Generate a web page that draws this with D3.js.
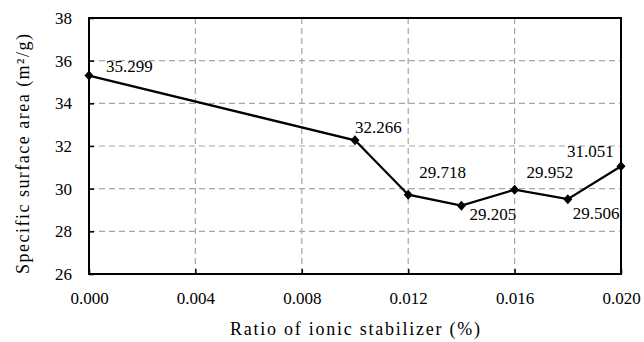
<!DOCTYPE html>
<html><head><meta charset="utf-8">
<script src="https://cdn.jsdelivr.net/npm/d3@7"></script>
<style>body{margin:0;background:#fff}svg{display:block}svg text{font-family:"Liberation Serif","Times New Roman",Times,"DejaVu Serif",serif !important;fill:#000}</style>
</head><body><svg id="c" width="644" height="342"></svg>
<script>
const xValues=[0,0.010,0.012,0.014,0.016,0.018,0.020];
const yValues=[35.299,32.266,29.718,29.205,29.952,29.506,31.051];
const xTicks=[0,0.004,0.008,0.012,0.016,0.020];
const yTicks=[26,28,30,32,34,36,38];
const labelDx=[17,0,11,8,12,5,-54];
const labelDy=[-8,-11,-21,10,-16,16,-13];

const svg=d3.select("#c");
const L=89,R=621,T=18,B=274;
const x=d3.scaleLinear().domain([0,0.020]).range([L,R]);
const y=d3.scaleLinear().domain([26,38]).range([B,T]);

// grid
svg.append("g").selectAll("line").data(yTicks.slice(1,-1)).join("line")
 .attr("x1",L).attr("x2",R).attr("y1",d=>y(d)).attr("y2",d=>y(d))
 .attr("stroke","#a6a6a6").attr("stroke-width",1.2).attr("stroke-dasharray","6,4");
svg.append("g").selectAll("line").data(xTicks.slice(1,-1)).join("line")
 .attr("y1",T).attr("y2",B).attr("x1",d=>x(d)).attr("x2",d=>x(d))
 .attr("stroke","#a6a6a6").attr("stroke-width",1.2).attr("stroke-dasharray","6,4");

// axes
const xa=svg.append("g").attr("transform",`translate(0,${B})`)
 .call(d3.axisBottom(x).tickValues(xTicks).tickFormat(d3.format(".3f")).tickSizeInner(-5).tickSizeOuter(0).tickPadding(18));
const ya=svg.append("g").attr("transform",`translate(${L},0)`)
 .call(d3.axisLeft(y).tickValues(yTicks).tickSizeInner(-5).tickSizeOuter(0).tickPadding(14));
[xa,ya].forEach(g=>{g.attr("font-family",null).attr("font-size",null);g.select(".domain").remove();g.selectAll("line").attr("stroke","#000").attr("stroke-width",1.5);
 g.selectAll("text").style("font-size","17px");});
ya.selectAll("text").attr("dx",-3);

// frame
svg.append("rect").attr("x",L).attr("y",T).attr("width",R-L).attr("height",B-T)
 .attr("fill","none").attr("stroke","#000").attr("stroke-width",2);

// line
const pts=xValues.map((v,i)=>[v,yValues[i]]);
svg.append("path").datum(pts).attr("fill","none").attr("stroke","#000").attr("stroke-width",2.2)
 .attr("d",d3.line().x(d=>x(d[0])).y(d=>y(d[1])));
svg.append("g").selectAll("path").data(pts).join("path")
 .attr("transform",d=>`translate(${x(d[0])},${y(d[1])})`)
 .attr("d","M0,-5L4.5,0L0,5L-4.5,0Z").attr("fill","#000");

// labels
svg.append("g").selectAll("text").data(pts).join("text")
 .attr("x",(d,i)=>x(d[0])+labelDx[i]).attr("y",(d,i)=>y(d[1])+labelDy[i])
 .attr("dominant-baseline","middle").style("font-size","17px")
 .text(d=>d[1].toFixed(3));

// titles
svg.append("text").attr("x",(L+R)/2).attr("y",335).attr("text-anchor","middle").style("font-size","18px")
 .attr("textLength",250).attr("lengthAdjust","spacing")
 .text("Ratio of ionic stabilizer (%)");
svg.append("text").attr("transform",`translate(29,154) rotate(-90)`).attr("text-anchor","middle").style("font-size","18px")
 .attr("textLength",240).attr("lengthAdjust","spacing")
 .text("Specific surface area (m²/g)");
</script></body></html>
